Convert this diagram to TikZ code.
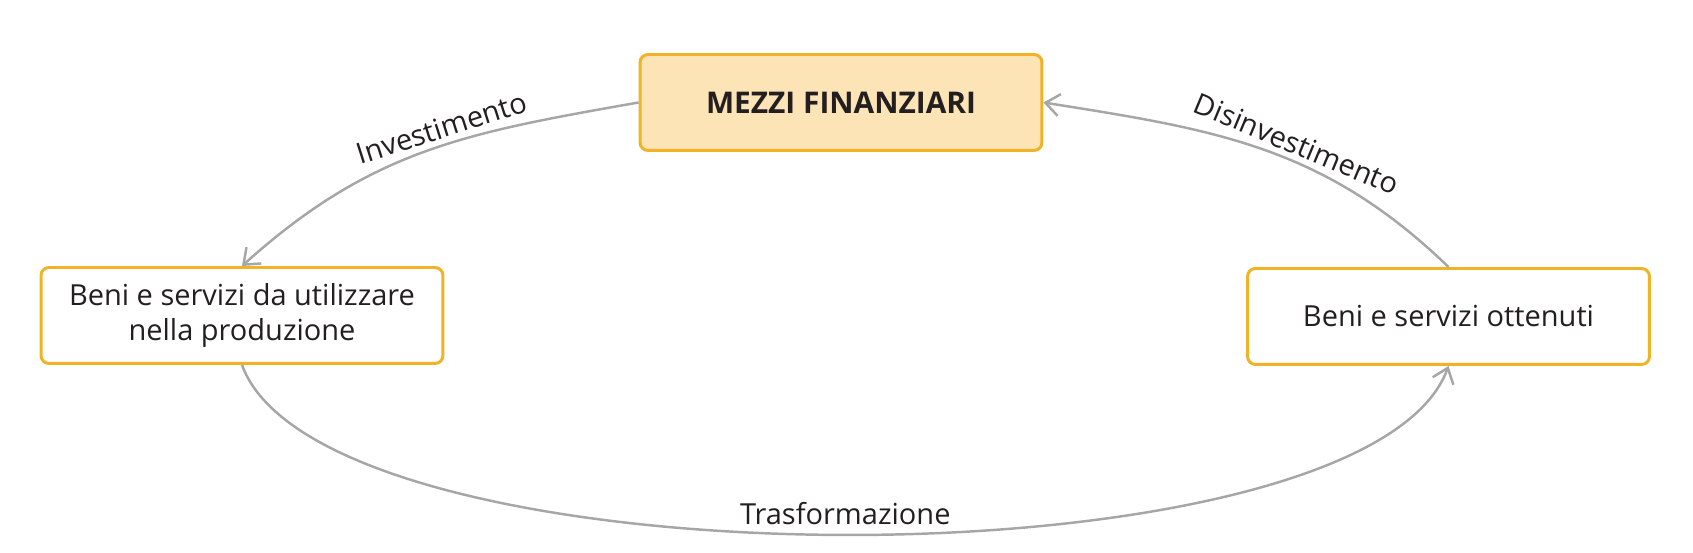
\documentclass[tikz,border=0pt]{standalone}
\usepackage{fontspec}
\setmainfont{Open Sans}
\usetikzlibrary{arrows.meta,positioning,calc}

\definecolor{boxborder}{HTML}{F0B326}
\definecolor{boxfill}{HTML}{FDE4B6}
\definecolor{flowline}{HTML}{A6A6A6}
\definecolor{labeltext}{HTML}{231F20}

\tikzset{
  phase/.style={draw=boxborder, line width=1.7pt, rounded corners=0.16cm, fill=white,
    minimum width=8.04cm, minimum height=1.92cm, align=center, text=labeltext,
    font=\fontsize{16.5}{20}\selectfont},
  flow/.style={draw=flowline, line width=1.4pt, -{Straight Barb[length=0.28cm,width=0.44cm]}},
  flowlabel/.style={text=labeltext, font=\fontsize{16.5}{20}\selectfont, inner sep=1pt}
}

\begin{document}
\begin{tikzpicture}[x=0.02cm,y=0.02cm]
  \useasboundingbox (0,0) rectangle (1693,553);

  % the three boxes
  \node [phase, fill=boxfill, font=\fontsize{17}{20}\selectfont\bfseries] at (841,450.5) (mezzi) {MEZZI FINANZIARI};
  \node [phase] at (242,237.5) (beni_input) {Beni e servizi da utilizzare\\nella produzione};
  \node [phase] at (1448.5,236.5) (beni_output) {Beni e servizi ottenuti};

  % the cycle
  \draw [flow] (mezzi.west) to[out=190, in=42, looseness=1.04]
    node[flowlabel, sloped, above=2pt, pos=0.44] {Investimento} (beni_input.north);
  \draw [flow] (beni_output.north) to[out=136, in=-9, looseness=1.02]
    node[flowlabel, sloped, above=2pt, pos=0.43] {Disinvestimento} (mezzi.east);
  \draw [flow] (beni_input.south) to[out=-70, in=-110, looseness=0.51]
    node[flowlabel, above=4pt, pos=0.5] {Trasformazione} (beni_output.south);

\end{tikzpicture}
\end{document}
